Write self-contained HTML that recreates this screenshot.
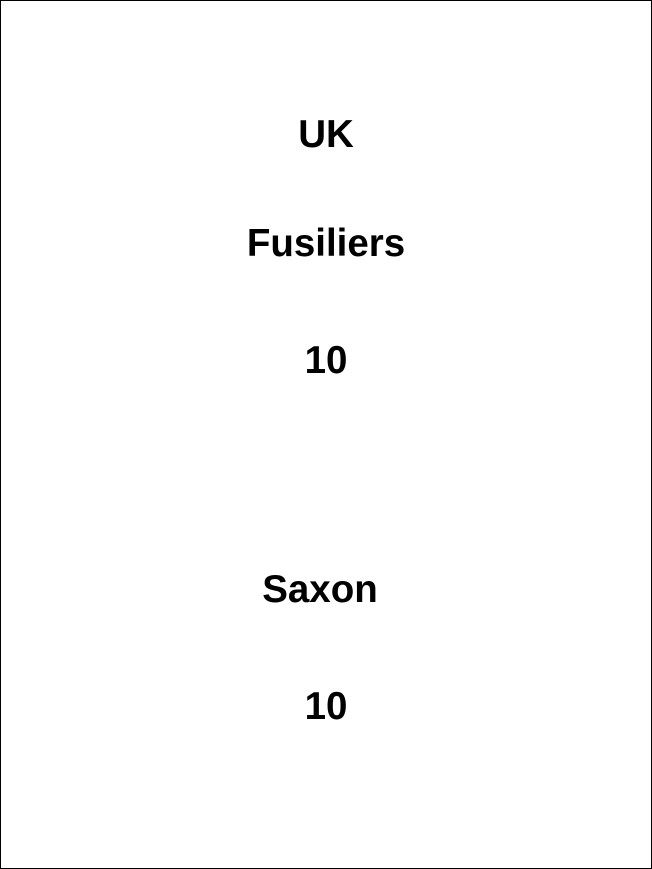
<!DOCTYPE html>
<html>
<head>
<meta charset="utf-8">
<style>
  html, body { margin: 0; padding: 0; background: #fff; }
  #card { position: relative; width: 650px; height: 867px; border: 1px solid #000; background: #fff; overflow: hidden; }
  .t { position: absolute; left: 0; width: 650px; text-align: center; font-family: "Liberation Sans", Arial, sans-serif; font-weight: bold; font-size: 38.5px; line-height: 38.5px; color: #000; }
</style>
</head>
<body>
<div id="card">
  <div class="t" style="top:115px;">UK</div>
  <div class="t" style="top:224px;">Fusiliers</div>
  <div class="t" style="top:341px;">10</div>
  <div class="t" style="top:570px; left:-6px;">Saxon</div>
  <div class="t" style="top:687px;">10</div>
</div>
</body>
</html>
